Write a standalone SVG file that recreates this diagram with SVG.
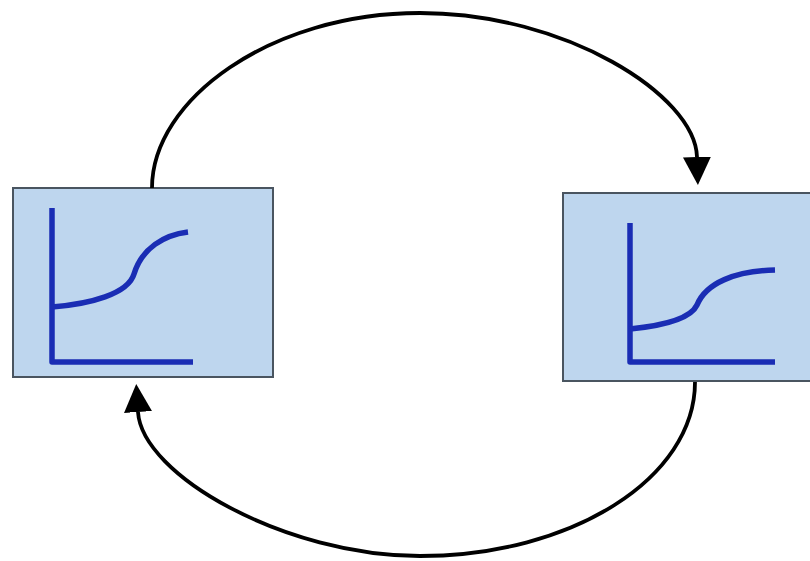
<svg xmlns="http://www.w3.org/2000/svg" width="810" height="561" viewBox="0 0 810 561">
<style>
.box{fill:#bed6ee;stroke:#4a5560;stroke-width:2}
.chart{fill:none;stroke:#1a2db4;stroke-width:5.5;stroke-linecap:butt;stroke-linejoin:round}
.conn{fill:none;stroke:#000;stroke-width:3.8}
</style>
<defs>
<marker id="arr" markerUnits="userSpaceOnUse" markerWidth="28" markerHeight="29" refX="0" refY="14.5" viewBox="0 0 28 29" orient="auto">
<path d="M0,0.5 L28,14.5 L0,28.5 z" fill="#000"/>
</marker>
</defs>
<rect width="810" height="561" fill="#fff"/>
<g id="node-left">
<rect class="box" x="13" y="188" width="260" height="189"/>
<path class="chart" d="M52,208 V362 H193"/>
<path class="chart" d="M52,307 C90,304 128,294 134,274 C142,248 164,235 188,232"/>
</g>
<g id="node-right">
<rect class="box" x="563" y="193" width="250" height="188"/>
<path class="chart" d="M630,223 V362 H775"/>
<path class="chart" d="M630,329 C660,326 690,320 697,305 C706,283 735,271 775,270"/>
</g>
<g id="connectors">
<path class="conn" d="M152,188 C152,100 270,13 420,13 C565,13 695,95 697,157" marker-end="url(#arr)"/>
<path class="conn" d="M695,382 C695,478 572,556 420,556 C285,556 142,475 138,412" marker-end="url(#arr)"/>
</g>
</svg>
